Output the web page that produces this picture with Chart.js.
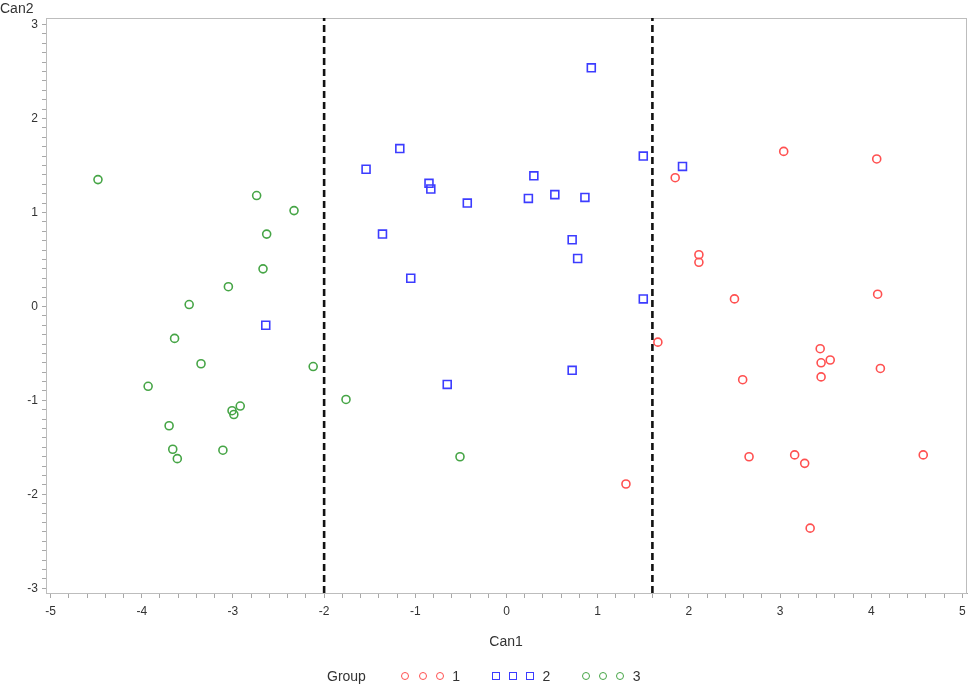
<!DOCTYPE html>
<html>
<head>
<meta charset="utf-8">
<script src="https://cdn.jsdelivr.net/npm/chart.js@4.4.1/dist/chart.umd.min.js"></script>
<style>
    body { margin: 0; background: #fff; }
    #wrap { position: relative; width: 970px; height: 688px; font-family: 'Liberation Sans', Arial, sans-serif; color: #333; }
    #can2 { position: absolute; left: 0px; top: 0px; font-size: 14px; }
    #can1 { position: absolute; left: 486px; top: 633px; width: 40px; text-align: center; font-size: 14px; }
    #legend { position: absolute; left: 327px; top: 668px; font-size: 14px; display: flex; align-items: center; }
    #legend .title { margin-right: 4px; }
    #legend .item { display: flex; align-items: center; margin-left: 31.5px; }
    #legend .mk { display: inline-block; width: 6px; height: 6px; border: 1.6px solid; margin-right: 9.3px; }
    #legend .circle { border-radius: 50%; }
</style>
</head>
<body>
<div id="wrap">
    <canvas id="chart" width="970" height="688"></canvas>
    <div id="can2">Can2</div>
    <div id="can1">Can1</div>
    <div id="legend"><span class="title">Group</span></div>
</div>
<script>
// Canonical scores: [Can1, Can2]
const group1Points = [
    [3.04, 1.65], [4.06, 1.57], [1.85, 1.37], [2.11, 0.55], [2.11, 0.47],
    [2.50, 0.08], [4.07, 0.13], [1.66, -0.38], [3.44, -0.45], [3.45, -0.60],
    [3.55, -0.57], [4.10, -0.66], [3.45, -0.75], [2.59, -0.78], [2.66, -1.60],
    [3.16, -1.58], [3.27, -1.67], [4.57, -1.58], [3.33, -2.36], [1.31, -1.89]
];
const group2Points = [
    [0.93, 2.54], [-1.17, 1.68], [-1.54, 1.46], [1.50, 1.60], [1.93, 1.49],
    [0.30, 1.39], [-0.85, 1.31], [-0.83, 1.25], [-0.43, 1.10], [0.24, 1.15],
    [0.53, 1.19], [0.86, 1.16], [-1.36, 0.77], [0.72, 0.71], [0.78, 0.51],
    [-1.05, 0.30], [1.50, 0.08], [-2.64, -0.20], [-0.65, -0.83], [0.72, -0.68]
];
const group3Points = [
    [-4.48, 1.35], [-2.74, 1.18], [-2.33, 1.02], [-2.63, 0.77], [-2.67, 0.40],
    [-3.05, 0.21], [-3.48, 0.02], [-3.64, -0.34], [-3.35, -0.61], [-3.93, -0.85],
    [-2.12, -0.64], [-2.92, -1.06], [-3.01, -1.11], [-2.99, -1.15], [-3.70, -1.27],
    [-3.66, -1.52], [-3.61, -1.62], [-3.11, -1.53], [-1.76, -0.99], [-0.51, -1.60]
];
const groupNames = ['1', '2', '3'];

// Cut-off lines on Can1
const cutoffs = [-2, 1.6];

// Axis ticks
const xTickLabels = [-5, -4, -3, -2, -1, 0, 1, 2, 3, 4, 5];
const yTickLabels = [-3, -2, -1, 0, 1, 2, 3];
const xMinorPerMajor = 5;
const yMinorPerMajor = 10;
const xRange = [-5.05, 5.05];
const yRange = [-3.05, 3.07];

const colors = ['rgb(255,80,80)', 'rgb(60,60,255)', 'rgb(70,165,70)'];
const shapes = ['circle', 'rect', 'circle'];

function toXY(points) {
    return points.map(p => ({ x: p[0], y: p[1] }));
}

// major ticks plus evenly split minor ticks
function buildTicks(major, sub) {
    const out = [];
    for (let i = 0; i < major.length - 1; i++) {
        const step = (major[i + 1] - major[i]) / sub;
        for (let k = 0; k < sub; k++) {
            out.push({ value: Math.round((major[i] + k * step) * 1e6) / 1e6 });
        }
    }
    out.push({ value: major[major.length - 1] });
    return out;
}

const groups = [group1Points, group2Points, group3Points];

const datasets = groups.map((pts, i) => ({
    label: groupNames[i],
    data: toXY(pts),
    pointStyle: shapes[i],
    pointRadius: shapes[i] === 'rect' ? 5.6 : 4,
    pointBorderWidth: 1.6,
    borderColor: colors[i],
    backgroundColor: 'rgba(0,0,0,0)',
    showLine: false
}));

cutoffs.forEach(c => {
    datasets.push({
        type: 'line',
        label: 'cutoff',
        data: [{ x: c, y: yRange[0] }, { x: c, y: yRange[1] }],
        borderColor: '#111',
        borderWidth: 2.6,
        borderDash: [7, 4],
        pointRadius: 0,
        fill: false
    });
});

const tickFont = { family: "'Liberation Sans', Arial, sans-serif", size: 12 };

// Light frame round the plot area
const framePlugin = {
    id: 'frame',
    beforeDatasetsDraw(chart) {
        const { ctx, chartArea: a } = chart;
        ctx.save();
        ctx.strokeStyle = '#bdbdbd';
        ctx.lineWidth = 1;
        ctx.strokeRect(a.left + 0.5, a.top + 0.5, a.right - a.left - 1, a.bottom - a.top);
        ctx.restore();
    }
};

const isWhole = v => Math.abs(v - Math.round(v)) < 1e-6;

new Chart(document.getElementById('chart'), {
    type: 'scatter',
    data: { datasets: datasets },
    plugins: [framePlugin],
    options: {
        responsive: false,
        animation: false,
        events: [],
        layout: { autoPadding: false, padding: { top: 18, right: 3, left: 0, bottom: 70 } },
        plugins: {
            legend: { display: false },
            tooltip: { enabled: false }
        },
        scales: {
            x: {
                type: 'linear',
                min: xRange[0],
                max: xRange[1],
                afterBuildTicks: scale => { scale.ticks = buildTicks(xTickLabels, xMinorPerMajor); },
                afterFit: scale => {
                    scale.height = 25;
                    scale.paddingRight = 0;
                    scale.paddingLeft = 0;
                },
                ticks: {
                    autoSkip: false,
                    maxRotation: 0,
                    padding: 6,
                    color: '#333',
                    font: tickFont,
                    callback: v => isWhole(v) ? String(Math.round(v)) : ''
                },
                grid: { drawOnChartArea: false, drawTicks: true, tickLength: 5, tickColor: '#a8a8a8' },
                border: { display: true, color: '#a8a8a8', width: 1 }
            },
            y: {
                type: 'linear',
                min: yRange[0],
                max: yRange[1],
                afterBuildTicks: scale => { scale.ticks = buildTicks(yTickLabels, yMinorPerMajor); },
                afterFit: scale => { scale.width = 46; },
                ticks: {
                    autoSkip: false,
                    padding: 4,
                    color: '#333',
                    font: tickFont,
                    callback: v => isWhole(v) ? String(Math.round(v)) : ''
                },
                grid: { drawOnChartArea: false, drawTicks: true, tickLength: 4, tickColor: '#a8a8a8' },
                border: { display: true, color: '#a8a8a8', width: 1 }
            }
        }
    }
});

// Legend: three markers per group, as in the original
const legend = document.getElementById('legend');
groupNames.forEach((name, i) => {
    const item = document.createElement('span');
    item.className = 'item';
    let html = '';
    for (let k = 0; k < 3; k++) {
        html += `<span class="mk ${shapes[i] === 'circle' ? 'circle' : ''}" style="border-color:${colors[i]}"></span>`;
    }
    item.innerHTML = html + `<span style="margin-left:-1px">${name}</span>`;
    legend.appendChild(item);
});
</script>
</body>
</html>
